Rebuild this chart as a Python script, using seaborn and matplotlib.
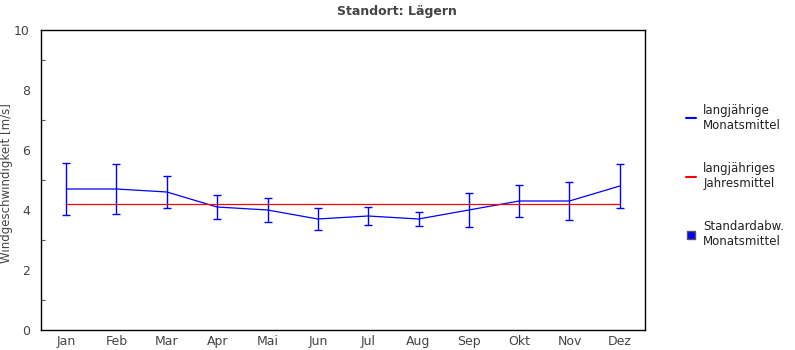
import matplotlib
matplotlib.use("Agg")
import matplotlib.pyplot as plt
from matplotlib.lines import Line2D
import numpy as np
import pandas as pd
import seaborn as sns

months = ["Jan", "Feb", "Mar", "Apr", "Mai", "Jun", "Jul", "Aug", "Sep", "Okt", "Nov", "Dez"]
monthly_mean = [4.7, 4.7, 4.6, 4.1, 4.0, 3.7, 3.8, 3.7, 4.0, 4.3, 4.3, 4.8]
monthly_std = [0.86, 0.83, 0.53, 0.40, 0.40, 0.36, 0.30, 0.23, 0.57, 0.53, 0.63, 0.73]
annual_mean = 4.2

sns.set_theme(style="white")
plt.rcParams["font.family"] = ["DejaVu Sans"]

df = pd.DataFrame({"pos": np.arange(len(months)), "Monat": months,
                   "mittel": monthly_mean, "std": monthly_std})
df["jahr"] = annual_mean

fig = plt.figure(figsize=(7.95, 3.5), dpi=100)
ax = fig.add_axes([41 / 795, 20 / 350, 604 / 795, 300 / 350])

sns.lineplot(data=df, x="pos", y="mittel", ax=ax, color="#0000ff", lw=0.9, legend=False)
ax.errorbar(df["pos"], df["mittel"], yerr=df["std"], fmt="none", ecolor="#0000ff",
            elinewidth=1.0, capsize=2.6, capthick=1.0)
sns.lineplot(data=df, x="pos", y="jahr", ax=ax, color="#ff0000", lw=0.9, legend=False)

ax.set_xlim(-0.5, len(months) - 0.5)
ax.set_ylim(0, 10)
ax.set_xticks(df["pos"])
ax.set_xticklabels(months)
ax.set_yticks(np.arange(0, 11, 2))
ax.set_yticks(np.arange(1, 10, 2), minor=True)
ax.tick_params(axis="both", which="both", direction="in", colors="#555555",
               labelcolor="#444444", labelsize=9, width=0.8)
ax.tick_params(axis="both", which="major", length=4)
ax.tick_params(axis="y", which="minor", length=3, left=True)
ax.tick_params(axis="y", pad=8)
for s in ax.spines.values():
    s.set_color("black")
    s.set_linewidth(1.0)
ax.set_xlabel("")
ax.set_ylabel("")
fig.text(7 / 795, 1 - 183 / 350, "Windgeschwindigkeit [m/s]", rotation=90,
         ha="center", va="center", fontsize=8.5, color="#444444")
fig.text(397 / 795, 1 - 11 / 350, "Standort: Lägern", ha="center", va="center",
         fontsize=9, fontweight="bold", color="#444444")

handles = [
    Line2D([0], [0], color="#0000ff", lw=1.5),
    Line2D([0], [0], color="#ff0000", lw=1.5),
    Line2D([0], [0], marker="s", color="none", markerfacecolor="#0000ff",
           markeredgecolor="#555555", markersize=6, lw=0),
]
labels = ["langjährige\nMonatsmittel", "langjähriges\nJahresmittel", "Standardabw.\nMonatsmittel"]
fig.legend(handles, labels, loc="upper left", bbox_to_anchor=(675 / 795, 1 - 93 / 350),
           frameon=False, fontsize=8.5, handlelength=0.9, handletextpad=0.6,
           labelspacing=2.55, labelcolor="#222222")

fig.savefig("out.png", dpi=100)
